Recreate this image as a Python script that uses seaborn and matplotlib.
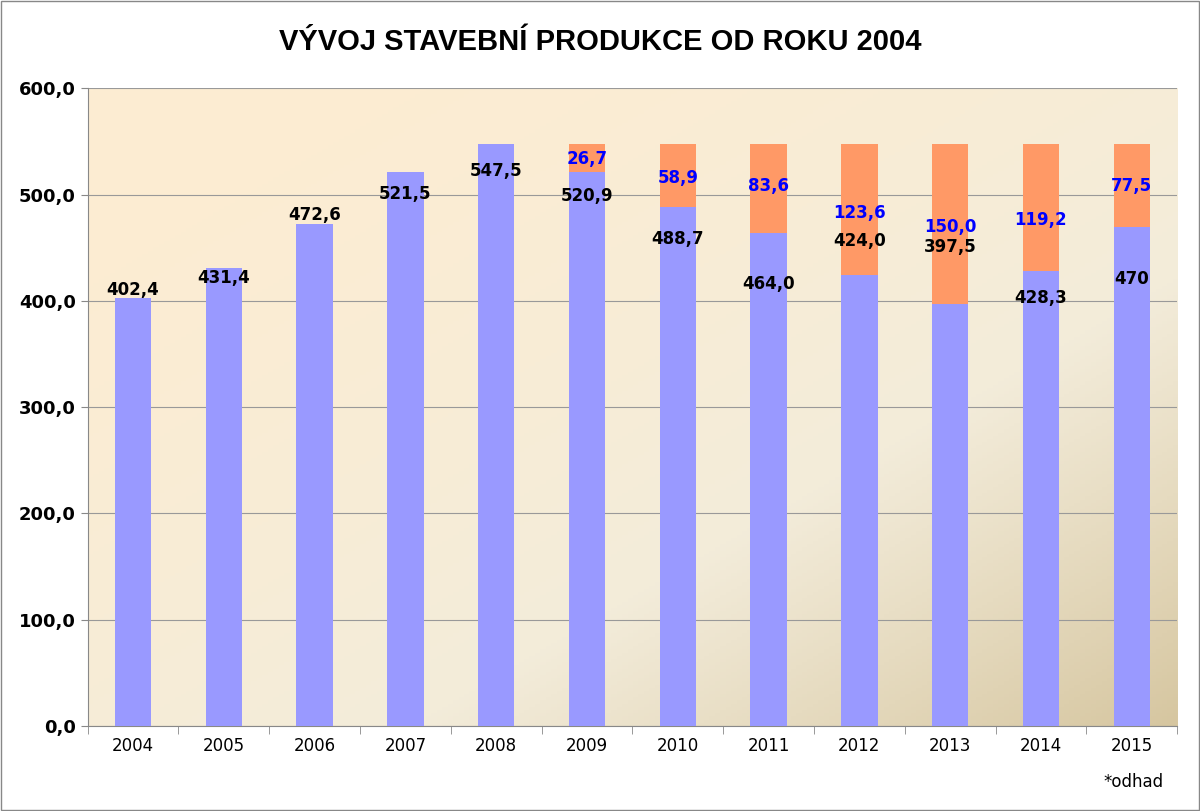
import matplotlib
matplotlib.use("Agg")
import matplotlib.pyplot as plt
import numpy as np
import pandas as pd
import seaborn as sns

years = ["2004","2005","2006","2007","2008","2009","2010","2011","2012","2013","2014","2015"]
base = [402.4,431.4,472.6,521.5,547.5,520.9,488.7,464.0,424.0,397.5,428.3,470]
base_lbl = ["402,4","431,4","472,6","521,5","547,5","520,9","488,7","464,0","424,0","397,5","428,3","470"]
drop = [0,0,0,0,0,26.7,58.9,83.6,123.6,150.0,119.2,77.5]
drop_lbl = ["","","","","","26,7","58,9","83,6","123,6","150,0","119,2","77,5"]
base_lbl_y = [410,422,481,501,522,499,458,416,456,451,403,421]
drop_lbl_y = [0,0,0,0,0,534,516,508,483,470,476,508]

fig = plt.figure(figsize=(12, 8.11), dpi=100)
fig.patch.set_facecolor("white")
ax = fig.add_axes([0.073, 0.105, 0.908, 0.786])

# gradient background: light top-left, tan bottom-right
nx, ny = 200, 200
xx, yy = np.meshgrid(np.linspace(0, 1, nx), np.linspace(0, 1, ny))
t = np.clip((xx + yy) / 2, 0, 1) ** 1.6
c0 = np.array([253, 237, 210]) / 255
c1 = np.array([243, 236, 218]) / 255
c2 = np.array([214, 198, 160]) / 255
tt = t[..., None]
img = np.where(tt < 0.5, c0 + (c1 - c0) * (tt / 0.5), c1 + (c2 - c1) * ((tt - 0.5) / 0.5))
ax.imshow(img, extent=[-0.5, 11.5, 0, 600], origin="upper", aspect="auto", zorder=0)

df = pd.DataFrame({"year": years, "base": base, "drop": drop})
df["top"] = df["base"] + df["drop"]
sns.barplot(data=df, x="year", y="top", color="#FF9966", width=0.4, saturation=1, ax=ax, zorder=2)
sns.barplot(data=df, x="year", y="base", color="#9999FF", width=0.4, saturation=1, ax=ax, zorder=3)

for i in range(len(years)):
    ax.text(i, base_lbl_y[i], base_lbl[i], ha="center", va="center", fontsize=12, fontweight="bold", color="black", zorder=5)
    if drop[i] > 0:
        ax.text(i, drop_lbl_y[i], drop_lbl[i], ha="center", va="center", fontsize=12, fontweight="bold", color="#0000FF", zorder=5)

ax.set_xlim(-0.5, 11.5)
ax.set_ylim(0, 600)
ax.set_yticks(np.arange(0, 601, 100))
ax.set_yticklabels([f"{v},0" for v in range(0, 601, 100)], fontsize=13, fontweight="bold")
ax.set_xticks(range(12))
ax.set_xticklabels(years, fontsize=12)
ax.set_xticks(np.arange(-0.5, 12, 1), minor=True)
ax.tick_params(axis="x", which="major", length=0, pad=8)
ax.tick_params(axis="x", which="minor", length=6, color="#888888")
ax.tick_params(axis="y", length=5, color="#888888")
ax.grid(axis="y", color="#999999", linewidth=0.8, zorder=1)
ax.set_axisbelow(True)
ax.set_xlabel("")
ax.set_ylabel("")
for s in ["top", "right"]:
    ax.spines[s].set_visible(False)
for s in ["left", "bottom"]:
    ax.spines[s].set_color("#888888")

fig.text(0.5, 0.948, "VÝVOJ STAVEBNÍ PRODUKCE OD ROKU 2004", ha="center", va="center", fontsize=21, fontweight="bold", family="Liberation Sans")
fig.text(0.945, 0.036, "*odhad", ha="center", va="center", fontsize=12)
fig.add_artist(plt.Rectangle((0.001, 0.001), 0.998, 0.998, transform=fig.transFigure, fill=False, edgecolor="#888888", linewidth=1))

fig.savefig("out.png", dpi=100)
